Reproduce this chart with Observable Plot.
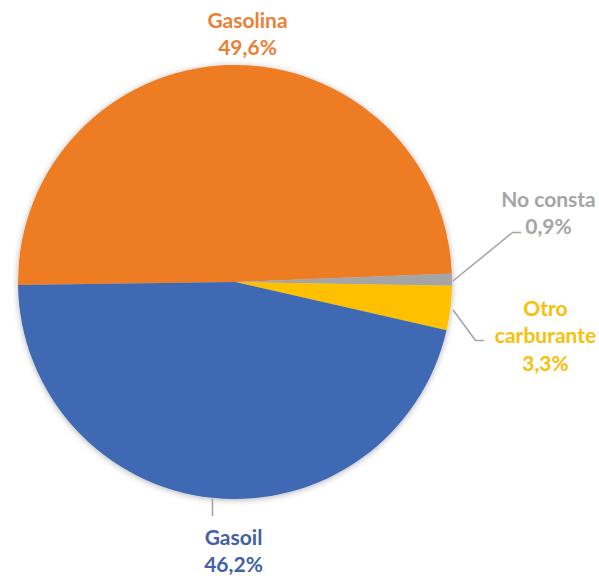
<!DOCTYPE html>
<html><head><meta charset="utf-8">
<script src="https://cdn.jsdelivr.net/npm/d3@7"></script>
<script src="https://cdn.jsdelivr.net/npm/@observablehq/plot@0.6"></script>
<style>body{margin:0;background:#fff;}</style>
</head><body><div id="chart"></div>
<script>
// Data
const categories = ["Gasolina", "No consta", "Otro carburante", "Gasoil"];
const shares = [49.6, 0.9, 3.3, 46.2];
const labelNames = ["Gasolina", "No consta", "Otro\ncarburante", "Gasoil"];
const sliceColors = ["#EE7B24", "#A5A5A5", "#FFC000", "#3F69B4"];
const textColors = ["#EC7F35", "#A5A5A5", "#F8C00A", "#4262A2"];

// Layout (pixels)
const cx = 235, cy = 282, R = 217;
const toU = ([px, py]) => [(px - cx) / R, (cy - py) / R];
const labelPx = [[247, 32], [548, 211], [545, 334], [233, 549]];
const leaderPx = [null, [[453, 280], [512, 232], [520, 232]], [[453, 310], [475, 340], [483, 340]], [[212, 499], [212, 515]]];

const fmt = v => v.toFixed(1).replace(".", ",") + "%";
const data = categories.map((c, i) => ({category: c, value: shares[i], color: sliceColors[i]}));
const start = -90.8 * Math.PI / 180;
const arcs = d3.pie().sort(null).value(d => d.value).startAngle(start).endAngle(start + 2 * Math.PI)(data);

const labels = categories.map((c, i) => {
  const [x, y] = toU(labelPx[i]);
  return {x, y, text: labelNames[i] + "\n" + fmt(shares[i]), color: textColors[i]};
});
const leaderRows = [];
leaderPx.forEach((pts, i) => { if (pts) pts.forEach(p => { const [x, y] = toU(p); leaderRows.push({id: i, x, y}); }); });

const pieMark = (index, scales) => {
  const x0 = scales.x ? scales.x(0) : cx;
  const y0 = scales.y ? scales.y(0) : cy;
  const r = scales.x ? scales.x(1) - scales.x(0) : R;
  const g = d3.create("svg:g");
  const defs = g.append("defs");
  const f = defs.append("filter").attr("id", "pieShadow").attr("x", "-10%").attr("y", "-10%").attr("width", "120%").attr("height", "120%");
  f.append("feDropShadow").attr("dx", 0).attr("dy", 1).attr("stdDeviation", 3).attr("flood-color", "#000").attr("flood-opacity", 0.3);
  const arc = d3.arc().innerRadius(0).outerRadius(r);
  const gg = g.append("g").attr("transform", `translate(${x0},${y0})`).attr("filter", "url(#pieShadow)");
  gg.selectAll("path").data(arcs).join("path").attr("d", arc).attr("fill", d => d.data.color);
  return g.node();
};

const chart = Plot.plot({
  width: 599, height: 576, margin: 0,
  x: {domain: [-1, 1], range: [cx - R, cx + R], axis: null},
  y: {domain: [-1, 1], range: [cy + R, cy - R], axis: null},
  color: {type: "identity"},
  marks: [
    pieMark,
    Plot.line(leaderRows, {x: "x", y: "y", z: "id", stroke: "#A6A6A6", strokeWidth: 1.6}),
    Plot.text(labels, {x: "x", y: "y", text: "text", fill: "color", fontSize: 21, fontWeight: "bold", fontFamily: "Lato, 'Open Sans', sans-serif", lineHeight: 1.3, textAnchor: "middle"})
  ]
});
document.getElementById("chart").appendChild(chart);
</script>
</body></html>
